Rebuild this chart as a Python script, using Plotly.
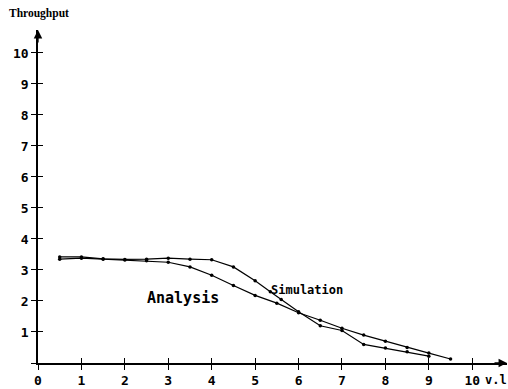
import plotly.graph_objects as go

# Data
sim_x = [0.5, 1, 1.5, 2, 2.5, 3, 3.5, 4, 4.5, 5, 5.35, 5.6, 6, 6.5, 7, 7.5, 8, 8.5, 9]
sim_y = [3.42, 3.42, 3.36, 3.34, 3.35, 3.38, 3.35, 3.33, 3.1, 2.65, 2.3, 2.05, 1.65, 1.2, 1.05, 0.6, 0.48, 0.36, 0.22]
ana_x = [0.5, 1, 1.5, 2, 2.5, 3, 3.5, 4, 4.5, 5, 5.5, 6, 6.5, 7, 7.5, 8, 8.5, 9, 9.5]
ana_y = [3.35, 3.38, 3.35, 3.32, 3.3, 3.25, 3.1, 2.83, 2.5, 2.18, 1.93, 1.62, 1.38, 1.12, 0.9, 0.7, 0.5, 0.32, 0.13]
tick_vals = list(range(0, 11))
x_tick_text = ["<b>0</b>", "<b>1</b>", "<b>2</b>", "<b>3</b>", "<b>4</b>", "<b>5</b>",
               "<b>6</b>", "<b>7</b>", "<b>8</b>", "<b>9</b>", "<b>10</b>"]
y_tick_text = ["", "<b>1</b>", "<b>2</b>", "<b>3</b>", "<b>4</b>", "<b>5</b>",
               "<b>6</b>", "<b>7</b>", "<b>8</b>", "<b>9</b>", "<b>10</b>"]

XR = [0, 10.8]
YR = [0, 10.74]
mono = "DejaVu Sans Mono"

fig = go.Figure()
line = dict(color="black", width=1.2)
mk = dict(color="black", size=3.5)
fig.add_trace(go.Scatter(x=sim_x, y=sim_y, mode="lines+markers", line=line, marker=mk, showlegend=False))
fig.add_trace(go.Scatter(x=ana_x, y=ana_y, mode="lines+markers", line=line, marker=mk, showlegend=False))
# invisible trace for overlay axes (inner half of the tick crosses)
fig.add_trace(go.Scatter(x=[None], y=[None], xaxis="x2", yaxis="y2", showlegend=False))

ax_common = dict(showgrid=False, zeroline=False, ticklen=5, tickwidth=1.3, tickcolor="black",
                 tickvals=tick_vals, tickfont=dict(family=mono, size=13, color="black"))
fig.update_layout(
    width=508, height=389,
    margin=dict(l=38, r=1, t=30, b=24),
    plot_bgcolor="white", paper_bgcolor="white",
    xaxis=dict(range=XR, showline=True, linecolor="black", linewidth=1.5, ticks="outside",
               ticktext=x_tick_text, **ax_common),
    yaxis=dict(range=YR, showline=True, linecolor="black", linewidth=1.5, ticks="outside",
               ticktext=y_tick_text, **ax_common),
    xaxis2=dict(range=XR, overlaying="x", ticks="inside", showticklabels=False, showline=False,
                showgrid=False, zeroline=False, ticklen=5, tickwidth=1.3, tickcolor="black",
                tickvals=tick_vals[1:]),
    yaxis2=dict(range=YR, overlaying="y", ticks="inside", showticklabels=False, showline=False,
                showgrid=False, zeroline=False, ticklen=5, tickwidth=1.3, tickcolor="black",
                tickvals=tick_vals[1:]),
)

# axis arrows
fig.add_annotation(x=XR[1], y=0, xref="x", yref="y", ax=-14, ay=0, text="", showarrow=True,
                   arrowhead=2, arrowsize=1.3, arrowwidth=1.3, arrowcolor="black")
fig.add_annotation(x=0, y=YR[1], xref="x", yref="y", ax=0, ay=14, text="", showarrow=True,
                   arrowhead=2, arrowsize=1.3, arrowwidth=1.3, arrowcolor="black")

# labels
fig.add_annotation(x=0, y=1, xref="paper", yref="paper", xanchor="center", yanchor="bottom",
                   xshift=1, yshift=8, text="<b>Throughput</b>", showarrow=False,
                   font=dict(family="Liberation Serif", size=11.5, color="black"))
fig.add_annotation(x=10.55, y=0, xref="x", yref="y", yshift=-17, text="<b>v.l</b>", showarrow=False,
                   font=dict(family=mono, size=12, color="black"))
fig.add_annotation(x=3.34, y=2.1, xref="x", yref="y", text="<b>Analysis</b>", showarrow=False,
                   font=dict(family=mono, size=15, color="black"))
fig.add_annotation(x=6.2, y=2.37, xref="x", yref="y", text="<b>Simulation</b>", showarrow=False,
                   font=dict(family=mono, size=12, color="black"))

fig.write_html("out.html")
